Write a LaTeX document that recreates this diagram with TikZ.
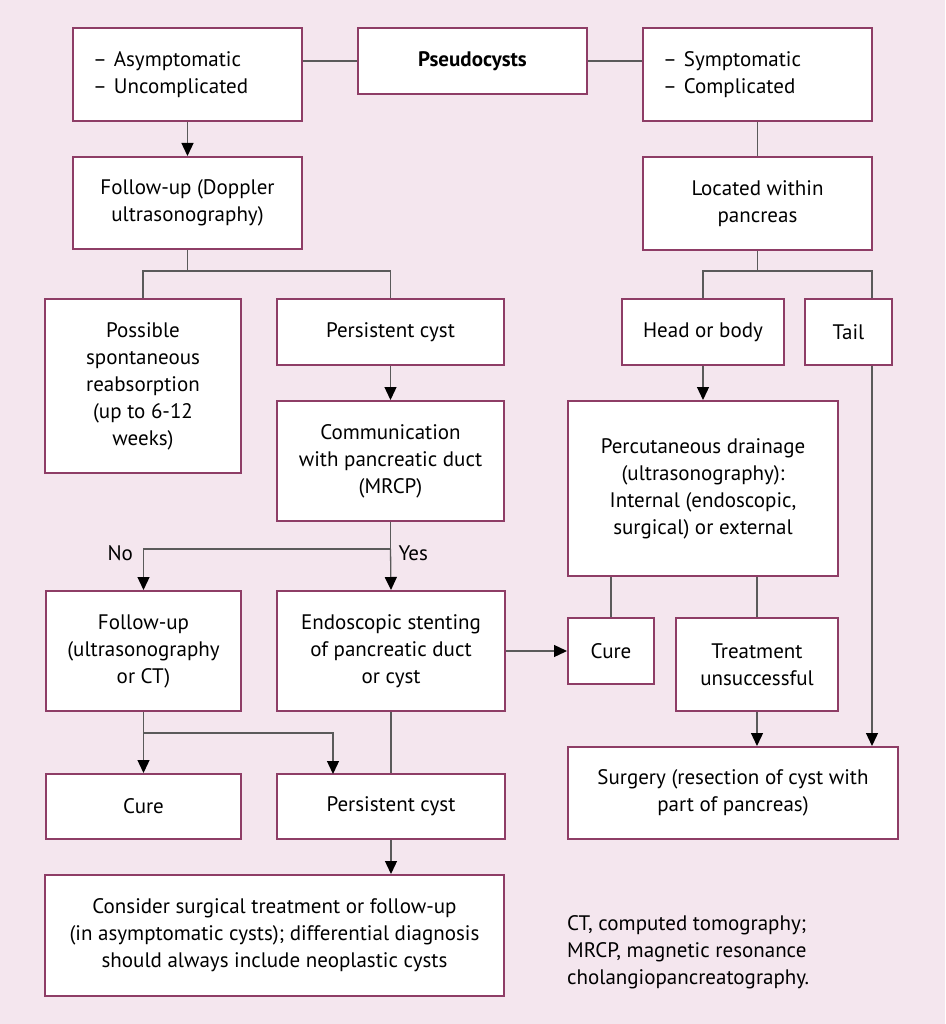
\documentclass[tikz,border=0pt]{standalone}
\usepackage{fontspec}
\setmainfont{PT Sans}
\usetikzlibrary{arrows.meta}
\definecolor{bgpink}{HTML}{F4E6EE}
\definecolor{boxline}{HTML}{8E3D66}
\definecolor{wire}{HTML}{5A5A5A}
\begin{document}
\begin{tikzpicture}[x=1pt,y=-1pt,
    box/.style={draw=boxline,line width=2pt,fill=white,align=center,inner sep=0pt,
        font=\fontsize{21}{27}\selectfont},
    link/.style={draw=wire,line width=1.3pt},
    arr/.style={link,-{Triangle[width=12pt,length=13pt,color=black]}}]
    \fill[bgpink] (0,0) rectangle (945,1024);
    \useasboundingbox (0,0) rectangle (945,1024);
    % top row
    \node[box,minimum width=229pt,minimum height=93pt,text width=189pt,align=left] (asym) at (187.5,74.5) {-- Asymptomatic\\-- Uncomplicated};
    \node[box,minimum width=229pt,minimum height=66pt] (pseudo) at (472.5,61) {\textbf{Pseudocysts}};
    \node[box,minimum width=229pt,minimum height=93pt,text width=189pt,align=left] (sympt) at (757.5,74.5) {-- Symptomatic\\-- Complicated};
    \node[box,minimum width=229pt,minimum height=92pt] (fupdop) at (187.5,203) {Follow-up (Doppler\\ultrasonography)};
    \node[box,minimum width=229pt,minimum height=93pt] (located) at (757.5,203.5) {Located within\\pancreas};
    % second row
    \node[box,minimum width=196pt,minimum height=174pt] (reabs) at (143,386) {Possible\\spontaneous\\reabsorption\\(up to 6-12\\weeks)};
    \node[box,minimum width=227pt,minimum height=66pt] (persa) at (390.5,332) {Persistent cyst};
    \node[box,minimum width=162pt,minimum height=66pt] (head) at (703,332) {Head or body};
    \node[box,minimum width=87pt,minimum height=66pt] (tail) at (848.5,332) {Tail};
    \node[box,minimum width=227pt,minimum height=120pt] (comm) at (390.5,461) {Communication\\with pancreatic duct\\(MRCP)};
    \node[box,minimum width=270pt,minimum height=175pt] (percu) at (703,488.5) {Percutaneous drainage\\(ultrasonography):\\Internal (endoscopic,\\surgical) or external};
    % third row
    \node[box,minimum width=195pt,minimum height=120pt] (fupus) at (143.5,651) {Follow-up\\(ultrasonography\\or CT)};
    \node[box,minimum width=228pt,minimum height=120pt] (stent) at (391,651) {Endoscopic stenting\\of pancreatic duct\\or cyst};
    \node[box,minimum width=86pt,minimum height=66pt] (curec) at (611,651) {Cure};
    \node[box,minimum width=162pt,minimum height=93pt] (fail) at (757,664.5) {Treatment\\unsuccessful};
    \node[box,minimum width=330pt,minimum height=92pt] (surg) at (733,793) {Surgery (resection of cyst with\\part of pancreas)};
    \node[box,minimum width=195pt,minimum height=65pt] (curea) at (143.5,806.5) {Cure};
    \node[box,minimum width=228pt,minimum height=65pt] (persb) at (391,806.5) {Persistent cyst};
    \node[box,minimum width=459pt,minimum height=121pt] (consider) at (274.5,935.5) {Consider surgical treatment or follow-up\\(in asymptomatic cysts); differential diagnosis\\should always include neoplastic cysts};
    \node[anchor=north west,align=left,inner sep=0pt,font=\fontsize{21}{27}\selectfont] (abbr) at (567,915) {CT, computed tomography;\\MRCP, magnetic resonance\\cholangiopancreatography.};
    % junctions
    \coordinate (ja) at (187.5,271);
    \coordinate (jb) at (757.5,271);
    \coordinate (jc) at (390.5,549);
    \coordinate (jd) at (143.5,733);
    \coordinate (tx) at (872,0);
    % connectors
    \draw[link] (pseudo.west) -- (pseudo.west -| asym.east);
    \draw[link] (pseudo.east) -- (pseudo.east -| sympt.west);
    \draw[arr] (asym) -- (fupdop);
    \draw[link] (sympt) -- (located);
    \draw[link] (fupdop.south) -- (ja) -| (reabs.north);
    \draw[link] (ja) -| (persa.north);
    \draw[link] (located.south) -- (jb) -| (head.north);
    \draw[link] (jb) -| (tx |- tail.north);
    \draw[arr] (persa) -- (comm);
    \draw[arr] (head) -- (head |- percu.north);
    \draw[link] (comm.south) -- (jc);
    \draw[arr] (jc) -| (fupus.north);
    \draw[arr] (jc) -- (stent.north) node[pos=0.1,right=4pt,font=\fontsize{21}{27}\selectfont] (yes) {Yes};
    \node[left=7pt,font=\fontsize{21}{27}\selectfont] (no) at (143.5,553) {No};
    \draw[arr] (stent) -- (curec);
    \draw[link] (curec.north |- percu.south) -- (curec.north);
    \draw[link] (fail.north |- percu.south) -- (fail.north);
    \draw[arr] (fail.south) -- (fail.south |- surg.north);
    \draw[arr] (tx |- tail.south) -- (tx |- surg.north);
    \draw[arr] (fupus) -- (curea);
    \draw[arr] (jd) -| (333,774);
    \draw[link] (stent) -- (persb);
    \draw[arr] (persb) -- (persb |- consider.north);
\end{tikzpicture}
\end{document}
